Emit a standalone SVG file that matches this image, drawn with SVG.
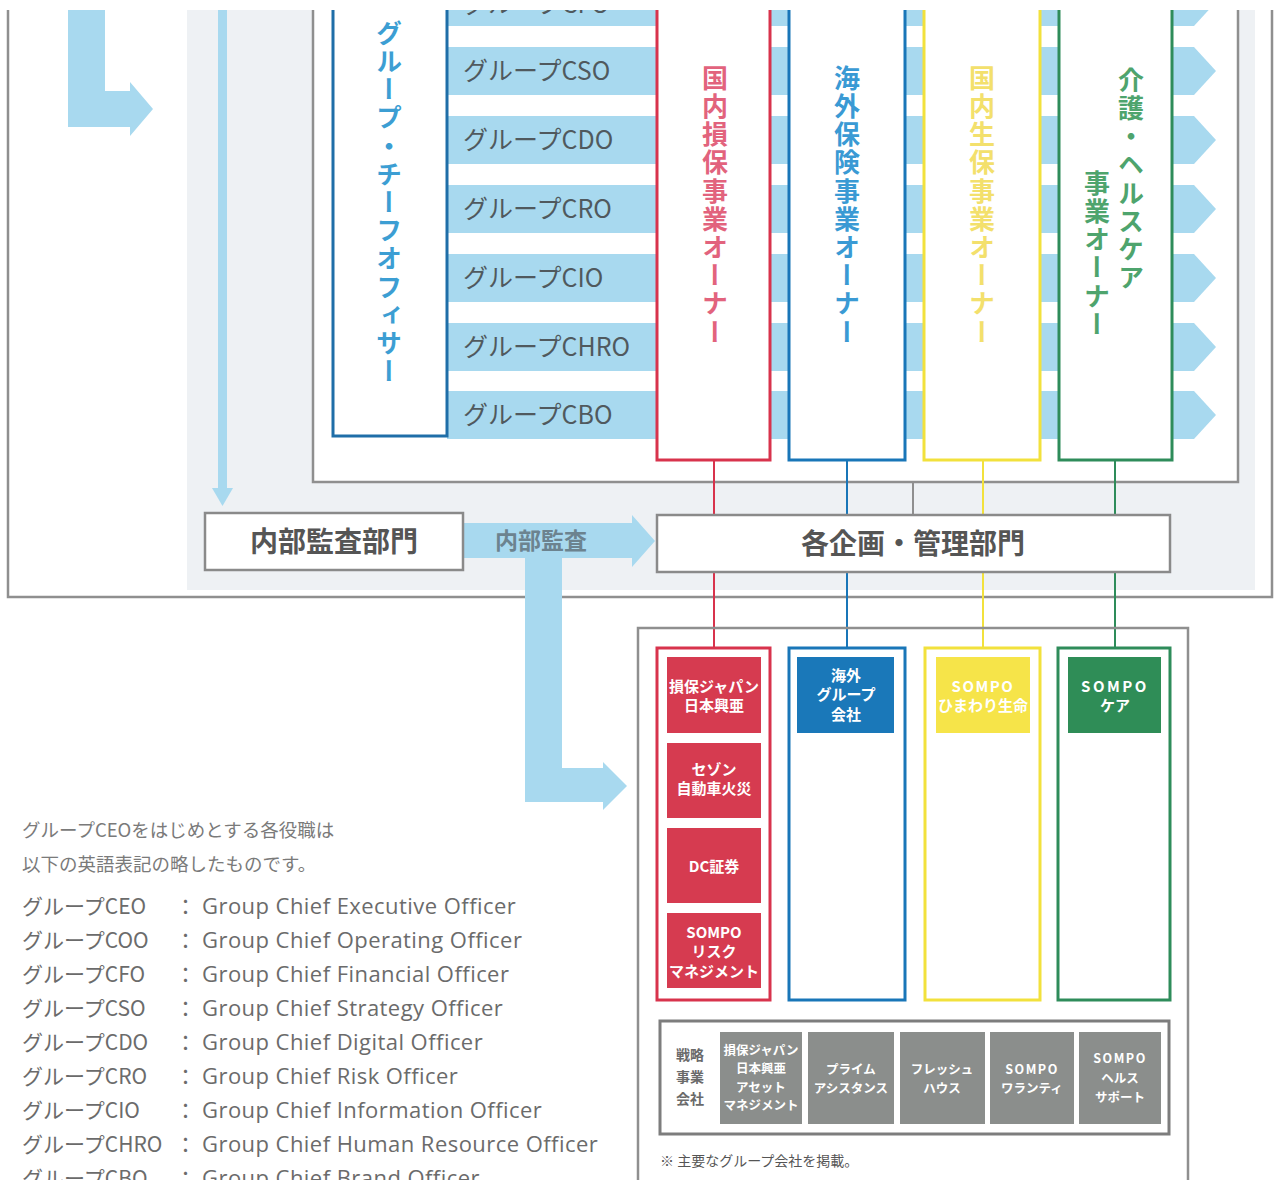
<svg xmlns="http://www.w3.org/2000/svg" width="1275" height="1180" viewBox="0 0 1275 1180">
<defs>
<clipPath id="clipTop"><rect x="0" y="10" width="1275" height="1170"/></clipPath>
<style>
.jp{font-family:"Noto Sans CJK JP","Noto Sans",sans-serif}
.en{font-family:"Open Sans","Noto Sans",sans-serif;font-size:22px;letter-spacing:0.45px}
.stripe{fill:#a8d9ef}
.frame{fill:none;stroke:#8f8f8f;stroke-width:2.5}
.stxt{font-size:25px;fill:#50595e}
.vt{writing-mode:vertical-rl;font-size:26px;letter-spacing:2.2px;font-weight:bold}
.owner{fill:#fff;stroke-width:3}
.co{font-size:15px;font-weight:bold;fill:#fff;text-anchor:middle}
.sg{fill:#8b8e8c}
.st{font-size:12.5px;font-weight:bold;fill:#fff;text-anchor:middle}
.lg{font-size:21px;fill:#6b6b6b}
.box{fill:#fff;stroke:#8a8a8a;stroke-width:2.5}
.big{font-size:28px;font-weight:bold;fill:#555;text-anchor:middle}
.conn{stroke-width:2;fill:none}
.arrow{fill:#a8d9ef}
</style>
</defs>
<rect width="1275" height="1180" fill="#fff"/>
<g clip-path="url(#clipTop)">
  <g id="background">
    <rect x="187" y="0" width="1068" height="590" fill="#eef1f4"/>
    <rect x="313" y="0" width="925" height="482" fill="#fff"/>
    <path class="frame" d="M8,0 V597 H1272 V0"/>
    <path class="frame" d="M313,0 V482 H1238 V0"/>
  </g>
  <g id="top-arrow">
    <polygon class="arrow" points="68,0 105,0 105,91 130,91 130,82 153,109 130,136 130,127 68,127"/>
  </g>
  <g id="audit-down-arrow">
    <rect x="218" y="0" width="9" height="490" fill="#a8d9ef"/>
    <polygon class="arrow" points="212,488 233,488 222.5,506"/>
  </g>
  <g id="stripes">
    <polygon class="stripe" points="447,-22 1194,-22 1216,2 1194,26 447,26"/>
    <polygon class="stripe" points="447,47 1194,47 1216,71 1194,95 447,95"/>
    <polygon class="stripe" points="447,116 1194,116 1216,140 1194,164 447,164"/>
    <polygon class="stripe" points="447,185 1194,185 1216,209 1194,233 447,233"/>
    <polygon class="stripe" points="447,254 1194,254 1216,278 1194,302 447,302"/>
    <polygon class="stripe" points="447,323 1194,323 1216,347 1194,371 447,371"/>
    <polygon class="stripe" points="447,391 1194,391 1216,415 1194,439 447,439"/>
    <text class="jp stxt" x="463" y="13">グループCFO</text>
    <text class="jp stxt" x="463" y="80">グループCSO</text>
    <text class="jp stxt" x="463" y="149">グループCDO</text>
    <text class="jp stxt" x="463" y="218">グループCRO</text>
    <text class="jp stxt" x="463" y="287">グループCIO</text>
    <text class="jp stxt" x="463" y="356">グループCHRO</text>
    <text class="jp stxt" x="463" y="424">グループCBO</text>
  </g>
  <g id="chief-officer">
    <rect class="owner" x="333" y="-5" width="114" height="441" stroke="#1f6ea8"/>
    <text class="jp vt" x="389" y="20" fill="#3c9ed3">グループ・チーフオフィサー</text>
  </g>
  <g id="owner-domestic-pc">
    <rect class="owner" x="657" y="-5" width="113" height="465" stroke="#d8334c"/>
    <text class="jp vt" x="715" y="65" fill="#e2637d">国内損保事業オーナー</text>
  </g>
  <g id="owner-overseas">
    <rect class="owner" x="789" y="-5" width="116" height="465" stroke="#1976b8"/>
    <text class="jp vt" x="847" y="65" fill="#3a9ad4">海外保険事業オーナー</text>
  </g>
  <g id="owner-domestic-life">
    <rect class="owner" x="924" y="-5" width="116" height="465" stroke="#f2e13c"/>
    <text class="jp vt" x="982" y="65" fill="#f3e06c">国内生保事業オーナー</text>
  </g>
  <g id="owner-care">
    <rect class="owner" x="1059" y="-5" width="113" height="465" stroke="#2e8c5a"/>
    <text class="jp vt" x="1131" y="67" fill="#4ea46d">介護・ヘルスケア</text>
    <text class="jp vt" x="1097" y="170" fill="#4ea46d">事業オーナー</text>
  </g>
  <g id="connectors">
    <line class="conn" x1="714" y1="460" x2="714" y2="648" stroke="#d8334c"/>
    <line class="conn" x1="847" y1="460" x2="847" y2="648" stroke="#1976b8"/>
    <line class="conn" x1="983" y1="460" x2="983" y2="648" stroke="#f2e13c"/>
    <line class="conn" x1="1115" y1="460" x2="1115" y2="648" stroke="#2e8c5a"/>
    <line class="conn" x1="913" y1="482" x2="913" y2="515" stroke="#8f8f8f"/>
  </g>
  <g id="audit-arrow">
    <polygon class="arrow" points="463,523 632,523 632,515 655,541 632,567 632,558 562,558 562,768 603,768 603,762 627,786 603,810 603,802 525,802 525,558 463,558"/>
    <text class="jp" x="541" y="549" font-size="23" font-weight="bold" fill="#6c838f" text-anchor="middle">内部監査</text>
  </g>
  <g id="internal-audit-dept">
    <rect class="box" x="205" y="513" width="258" height="57"/>
    <text class="jp big" x="334" y="552">内部監査部門</text>
  </g>
  <g id="planning-dept">
    <rect class="box" x="657" y="515" width="513" height="57"/>
    <text class="jp big" x="913" y="554" font-size="27">各企画・管理部門</text>
  </g>
  <g id="company-frame">
    <path class="frame" d="M638,1185 V628 H1188 V1185" stroke-width="2"/>
  </g>
  <g id="col-domestic-pc">
    <rect class="owner" x="657" y="648" width="113" height="352" stroke="#d8334c"/>
    <rect x="667" y="657" width="94" height="76" fill="#d63b50"/>
    <text class="jp co" x="714" y="692">損保ジャパン</text>
    <text class="jp co" x="714" y="711">日本興亜</text>
    <rect x="667" y="743" width="94" height="75" fill="#d63b50"/>
    <text class="jp co" x="714" y="775">セゾン</text>
    <text class="jp co" x="714" y="794">自動車火災</text>
    <rect x="667" y="828" width="94" height="75" fill="#d63b50"/>
    <text class="jp co" x="714" y="872">DC証券</text>
    <rect x="667" y="913" width="94" height="75" fill="#d63b50"/>
    <text class="jp co" x="714" y="938">SOMPO</text>
    <text class="jp co" x="714" y="957">リスク</text>
    <text class="jp co" x="714" y="977">マネジメント</text>
  </g>
  <g id="col-overseas">
    <rect class="owner" x="789" y="648" width="116" height="352" stroke="#1976b8"/>
    <rect x="797" y="657" width="97" height="76" fill="#1a78b9"/>
    <text class="jp co" x="846" y="681" font-size="14.5">海外</text>
    <text class="jp co" x="846" y="700" font-size="14.5">グループ</text>
    <text class="jp co" x="846" y="720" font-size="14.5">会社</text>
  </g>
  <g id="col-domestic-life">
    <rect class="owner" x="925" y="648" width="115" height="352" stroke="#f2e13c"/>
    <rect x="936" y="657" width="94" height="76" fill="#f6e449"/>
    <text class="jp co" x="983" y="692" letter-spacing="1.5">SOMPO</text>
    <text class="jp co" x="983" y="711">ひまわり生命</text>
  </g>
  <g id="col-care">
    <rect class="owner" x="1058" y="648" width="112" height="352" stroke="#2e8c5a"/>
    <rect x="1068" y="657" width="93" height="76" fill="#2f8d57"/>
    <text class="jp co" x="1115" y="692" letter-spacing="2.5" font-weight="normal" font-size="16">SOMPO</text>
    <text class="jp co" x="1115" y="711" font-weight="normal" font-size="16">ケア</text>
  </g>
  <g id="strategic-companies">
    <rect x="660" y="1021" width="509" height="113" fill="#fff" stroke="#7d7d7d" stroke-width="3"/>
    <text class="jp" x="690" y="1060" font-size="14" font-weight="bold" fill="#6a6a6a" text-anchor="middle">戦略</text>
    <text class="jp" x="690" y="1082" font-size="14" font-weight="bold" fill="#6a6a6a" text-anchor="middle">事業</text>
    <text class="jp" x="690" y="1104" font-size="14" font-weight="bold" fill="#6a6a6a" text-anchor="middle">会社</text>
    <rect class="sg" x="720" y="1032" width="82" height="92"/>
    <text class="jp st" x="761" y="1055">損保ジャパン</text>
    <text class="jp st" x="761" y="1073">日本興亜</text>
    <text class="jp st" x="761" y="1092">アセット</text>
    <text class="jp st" x="761" y="1110">マネジメント</text>
    <rect class="sg" x="808" y="1032" width="86" height="92"/>
    <text class="jp st" x="851" y="1074">プライム</text>
    <text class="jp st" x="851" y="1093">アシスタンス</text>
    <rect class="sg" x="900" y="1032" width="85" height="92"/>
    <text class="jp st" x="942" y="1074">フレッシュ</text>
    <text class="jp st" x="942" y="1093">ハウス</text>
    <rect class="sg" x="990" y="1032" width="84" height="92"/>
    <text class="jp st" x="1032" y="1074" letter-spacing="1.5">SOMPO</text>
    <text class="jp st" x="1032" y="1093">ワランティ</text>
    <rect class="sg" x="1079" y="1032" width="82" height="92"/>
    <text class="jp st" x="1120" y="1063" letter-spacing="1.5">SOMPO</text>
    <text class="jp st" x="1120" y="1083">ヘルス</text>
    <text class="jp st" x="1120" y="1102">サポート</text>
  </g>
  <g id="note">
    <text class="jp" x="660" y="1166" font-size="14" fill="#555">※ 主要なグループ会社を掲載。</text>
  </g>
  <g id="legend">
    <text class="jp" x="22" y="837" font-size="18.5" fill="#7a7a7a">グループCEOをはじめとする各役職は</text>
    <text class="jp" x="22" y="871" font-size="18.5" fill="#7a7a7a">以下の英語表記の略したものです。</text>
    <g class="lg">
      <text class="jp" x="22" y="914">グループCEO</text><text class="jp" x="175" y="914">：</text><text class="en" x="202" y="914">Group Chief Executive Officer</text>
      <text class="jp" x="22" y="948">グループCOO</text><text class="jp" x="175" y="948">：</text><text class="en" x="202" y="948">Group Chief Operating Officer</text>
      <text class="jp" x="22" y="982">グループCFO</text><text class="jp" x="175" y="982">：</text><text class="en" x="202" y="982">Group Chief Financial Officer</text>
      <text class="jp" x="22" y="1016">グループCSO</text><text class="jp" x="175" y="1016">：</text><text class="en" x="202" y="1016">Group Chief Strategy Officer</text>
      <text class="jp" x="22" y="1050">グループCDO</text><text class="jp" x="175" y="1050">：</text><text class="en" x="202" y="1050">Group Chief Digital Officer</text>
      <text class="jp" x="22" y="1084">グループCRO</text><text class="jp" x="175" y="1084">：</text><text class="en" x="202" y="1084">Group Chief Risk Officer</text>
      <text class="jp" x="22" y="1118">グループCIO</text><text class="jp" x="175" y="1118">：</text><text class="en" x="202" y="1118">Group Chief Information Officer</text>
      <text class="jp" x="22" y="1152">グループCHRO</text><text class="jp" x="175" y="1152">：</text><text class="en" x="202" y="1152">Group Chief Human Resource Officer</text>
      <text class="jp" x="22" y="1186">グループCBO</text><text class="jp" x="175" y="1186">：</text><text class="en" x="202" y="1186">Group Chief Brand Officer</text>
    </g>
  </g>
</g>
</svg>
